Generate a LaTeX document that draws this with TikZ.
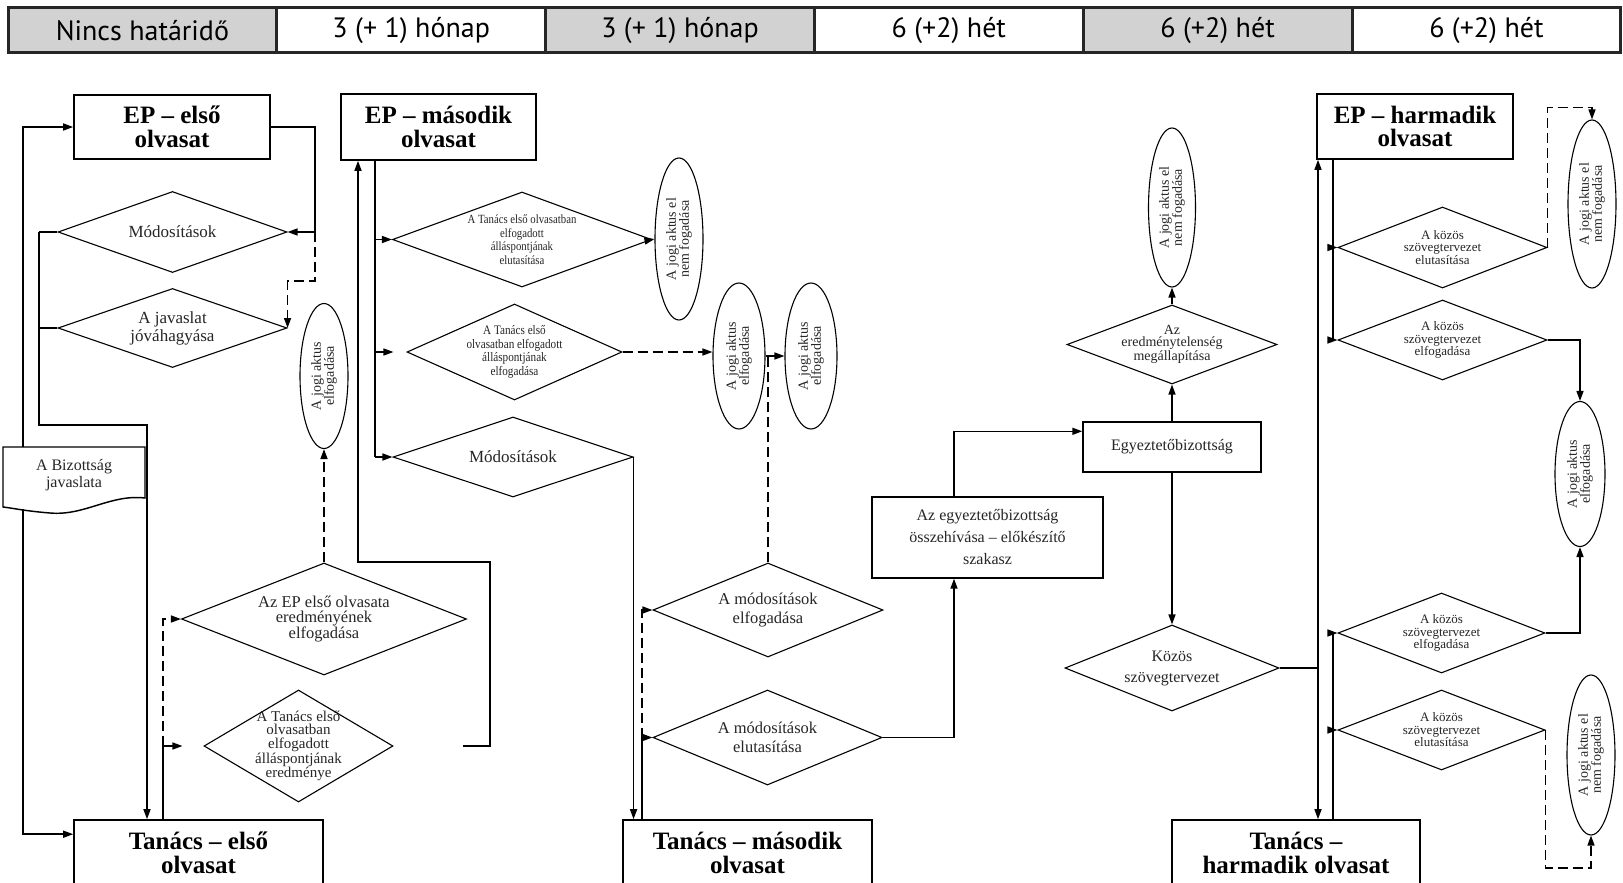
\documentclass[tikz,border=0pt]{standalone}
\usepackage{fontspec}
\setmainfont{Liberation Serif}
\newfontfamily\hdrfont{PT Sans}
\newfontfamily\condfont[FakeStretch=0.86]{Liberation Serif}
\usetikzlibrary{arrows.meta,shapes.geometric,calc}
\newcommand\myfs[2]{\fontsize{#1}{#2}\selectfont}
\definecolor{hg}{RGB}{210,210,210}
\begin{document}
\begin{tikzpicture}[x=1pt,y=-1pt,
  ln/.style={line width=1.45pt},
  arr/.style={line width=1.45pt,-{Triangle[length=10pt,width=7pt]}},
  dsh/.style={dash pattern=on 10pt off 5pt},
  tbox/.style={draw,line width=1.6pt,inner sep=0pt,align=center,font=\myfs{25}{23.5}\bfseries},
  sbox/.style={draw,line width=1.4pt,inner sep=0pt,align=center,text=black!85},
  dia/.style={draw,diamond,inner sep=0pt,line width=1.1pt},
  ell/.style={draw,ellipse,inner sep=0pt,line width=1.1pt},
  dt/.style={align=center,text=black!85,inner sep=0pt},
  hcell/.style={draw=black!85,line width=3pt,minimum width=268.8pt,minimum height=45pt,inner sep=0pt,font=\hdrfont\myfs{28}{30}},
]
\useasboundingbox (0,0) rectangle (1623,883);
\fill[white] (0,0) rectangle (1623,883);
% header
\node[hcell,fill=hg] (h1) at (142.4,30.5) {Nincs határidő};
\node[hcell,fill=white] (h2) at (411.2,30.5) {3 (+ 1) hónap};
\node[hcell,fill=hg] (h3) at (680,30.5) {3 (+ 1) hónap};
\node[hcell,fill=white] (h4) at (948.8,30.5) {6 (+2) hét};
\node[hcell,fill=hg] (h5) at (1217.6,30.5) {6 (+2) hét};
\node[hcell,fill=white] (h6) at (1486.4,30.5) {6 (+2) hét};

% ---- first reading
\node[tbox,minimum width=196,minimum height=64] (ep1) at (172,127) {EP – első\\olvasat};
\node[dia,minimum width=229,minimum height=81,label={[dt,font=\myfs{17}{19}]center:Módosítások}] (mod1) at (172.5,232) {};
\node[dia,minimum width=229,minimum height=79,label={[dt,font=\myfs{17}{18}]center:{A javaslat\\jóváhagyása}}] (jav) at (172.5,328) {};
\node[ell,minimum width=48,minimum height=145,label={[dt,rotate=90,font=\myfs{14}{13}]center:{A jogi aktus\\elfogadása}}] (ell1) at (324,376) {};
\node[dt,font=\myfs{16}{17},minimum width=142,minimum height=56] (biz) at (74,475) {A Bizottság\\javaslata};
\draw[ln] (3,447) -- (145,447) -- (145,498) .. controls (110,494) and (85,516) .. (50,513) .. controls (25,511) and (12,508) .. (3,507) -- cycle;
\node[dia,minimum width=285,minimum height=112,label={[dt,font=\myfs{16.5}{15.5}]center:{Az EP első olvasata\\eredményének\\elfogadása}}] (epres) at (324,619) {};
\node[dia,minimum width=189,minimum height=112,label={[dt,font=\myfs{15}{13.5}]center:{A Tanács első\\olvasatban\\elfogadott\\álláspontjának\\eredménye}}] (tres) at (298.5,746) {};
\node[tbox,minimum width=249,minimum height=66] (t1) at (198.5,853) {Tanács – első\\olvasat};

% ---- second reading
\node[tbox,minimum width=195,minimum height=66] (ep2) at (438.5,127) {EP – második\\olvasat};
\node[dia,minimum width=259,minimum height=95,label={[dt,font=\condfont\myfs{12.5}{13.5}]center:{A Tanács első olvasatban\\elfogadott\\álláspontjának\\elutasítása}}] (delut) at (522,239.5) {};
\node[ell,minimum width=48,minimum height=162,label={[dt,rotate=90,font=\myfs{14}{13}]center:{A jogi aktus el\\nem fogadása}}] (ell2) at (679,239) {};
\node[dia,minimum width=215,minimum height=96,label={[dt,font=\condfont\myfs{13}{13.5}]center:{A Tanács első\\olvasatban elfogadott\\álláspontjának\\elfogadása}}] (delf) at (514.5,352) {};
\node[ell,minimum width=52,minimum height=146,label={[dt,rotate=90,font=\myfs{14}{13}]center:{A jogi aktus\\elfogadása}}] (ell3) at (739,356) {};
\node[ell,minimum width=52,minimum height=146,label={[dt,rotate=90,font=\myfs{14}{13}]center:{A jogi aktus\\elfogadása}}] (ell4) at (811,356) {};
\node[dia,minimum width=240,minimum height=80,label={[dt,font=\myfs{17}{19}]center:Módosítások}] (mod2) at (513,457) {};
\node[tbox,minimum width=249,minimum height=66] (t2) at (747.5,853) {Tanács – második\\olvasat};
\node[dia,minimum width=230,minimum height=94,label={[dt,font=\myfs{16.5}{19}]center:{A módosítások\\elfogadása}}] (dmelf) at (768,610) {};
\node[dia,minimum width=229,minimum height=95,label={[dt,font=\myfs{16.5}{19}]center:{A módosítások\\elutasítása}}] (dmelut) at (767.5,737.5) {};

% ---- conciliation
\node[sbox,minimum width=231,minimum height=81,font=\myfs{16}{22}] (egyb) at (987.5,537.5) {Az egyeztetőbizottság\\összehívása – előkészítő\\szakasz};
\node[sbox,minimum width=178,minimum height=50,font=\myfs{16}{19}] (egy) at (1172,447) {Egyeztetőbizottság};
\node[dia,minimum width=210,minimum height=79,label={[dt,font=\myfs{14}{12.5}]center:{Az\\eredménytelenség\\megállapítása}}] (dered) at (1172,344.5) {};
\node[ell,minimum width=47,minimum height=159,label={[dt,rotate=90,font=\myfs{14}{13}]center:{A jogi aktus el\\nem fogadása}}] (ell5) at (1172,207.5) {};
\node[dia,minimum width=214,minimum height=86,label={[dt,font=\myfs{16}{21}]center:{Közös\\szövegtervezet}}] (kozos) at (1172,668) {};

% ---- third reading
\node[tbox,minimum width=196,minimum height=65] (ep3) at (1415,126.5) {EP – harmadik\\olvasat};
\node[dia,minimum width=209,minimum height=81,label={[dt,font=\myfs{13}{12.5}]center:{A közös\\szövegtervezet\\elutasítása}}] (d3a) at (1442.5,247.5) {};
\node[dia,minimum width=209,minimum height=80,label={[dt,font=\myfs{13}{12.5}]center:{A közös\\szövegtervezet\\elfogadása}}] (d3b) at (1442.5,340) {};
\node[ell,minimum width=48,minimum height=168,label={[dt,rotate=90,font=\myfs{14}{13}]center:{A jogi aktus el\\nem fogadása}}] (ell6) at (1592,204) {};
\node[ell,minimum width=50,minimum height=145,label={[dt,rotate=90,font=\myfs{14}{13}]center:{A jogi aktus\\elfogadása}}] (ell7) at (1580,474) {};
\node[dia,minimum width=207,minimum height=80,label={[dt,font=\myfs{13}{12.5}]center:{A közös\\szövegtervezet\\elfogadása}}] (d3c) at (1441.5,633) {};
\node[dia,minimum width=207,minimum height=80,label={[dt,font=\myfs{13}{12.5}]center:{A közös\\szövegtervezet\\elutasítása}}] (d3d) at (1441.5,730) {};
\node[ell,minimum width=48,minimum height=160,label={[dt,rotate=90,font=\myfs{14}{13}]center:{A jogi aktus el\\nem fogadása}}] (ell8) at (1591,755) {};
\node[tbox,minimum width=248,minimum height=66] (t3) at (1296,853) {Tanács –\\harmadik olvasat};

% ---- connectors: first reading
\coordinate (bizT) at (23,447);
\coordinate (bizB) at (23,509);
\draw[arr] (bizT) |- (ep1.west);
\draw[arr] (bizB) |- ($(t1.north west)+(0,15)$);
\coordinate (k1) at (315,232);
\draw[arr] (ep1.east) -| (k1) -- (mod1.east);
\draw[arr,dsh] (k1) -- (315,281) -| (jav.east);
\coordinate (k2) at (39,232);
\coordinate (k3) at (147,425);
\draw[ln] (mod1.west) -- (k2);
\draw[ln] (jav.west) -- (jav.west -| k2);
\draw[arr] (k2) |- (k3) -- (t1.north -| k3);
\coordinate (k4) at (163,746);
\draw[arr] (t1.north -| k4) -- (k4) -- ($(tres.west)+(-21,0)$);
\draw[arr,dsh] (k4) |- (epres.west);
\draw[arr,dsh] (epres.north) -- (ell1.south);
\coordinate (k5) at (463,746);
\coordinate (k6) at (358,562);
\draw[arr] (k5) -- (490,746) |- (k6) -- (ep2.south -| k6);

% ---- connectors: second reading
\coordinate (k7) at (375,457);
\draw[ln] (ep2.south -| k7) -- (k7);
\draw[arr] (k7) -- (mod2.west);
\draw[arr] (delut.west -| k7) -- (delut.west);
\draw[arr] (delf.west -| k7) -- ($(delf.west)+(-13,0)$);
\draw[arr] (delut.east) -- (ell2.west);
\draw[arr,dsh] (delf.east) -- (delf.east -| ell3.west);
\draw[arr] (ell3.east) -- (ell4.west);
\draw[ln,dsh] (dmelf.north) -- (dmelf.north |- ell3.east);
\draw[arr] (mod2.east) -- (mod2.east |- t2.north);
\coordinate (k8) at (642,737.5);
\draw[arr] (t2.north -| k8) -- (k8) -- (dmelut.west);
\draw[arr,dsh] (k8) |- (dmelf.west);
\coordinate (k9) at (954,737.5);
\draw[arr] (dmelut.east) -- (k9) -- (egyb.south -| k9);
\draw[arr] (egyb.north -| k9) |- ($(egy.north west)+(0,10)$);

% ---- conciliation
\draw[arr] (egy.north) -- (dered.south);
\draw[arr] (dered.north) -- (ell5.south);
\draw[arr] (egy.south) -- (kozos.north);
\coordinate (k10) at (1318,668);
\draw[ln] (kozos.east) -- (k10);
\draw[arr] (k10) -- (ep3.south -| k10);
\draw[arr] (k10) -- (t3.north -| k10);

% ---- third reading
\coordinate (k11) at (1333,340);
\draw[ln] (ep3.south -| k11) -- (k11);
\draw[arr] (d3a.west -| k11) -- (d3a.west);
\draw[arr] (k11) -- (d3b.west);
\draw[arr,dsh] (d3a.east) -- ++(0,-140) -| (ell6.north);
\draw[arr] (d3b.east) -| (ell7.north);
\draw[arr] (d3c.east) -| (ell7.south);
\coordinate (k12) at (1333,633);
\draw[ln] (t3.north -| k12) -- (k12);
\draw[arr] (k12) -- (d3c.west);
\draw[arr] (d3d.west -| k12) -- (d3d.west);
\draw[arr,dsh] (d3d.east) -- ++(0,138) -| (ell8.south);
\end{tikzpicture}
\end{document}
